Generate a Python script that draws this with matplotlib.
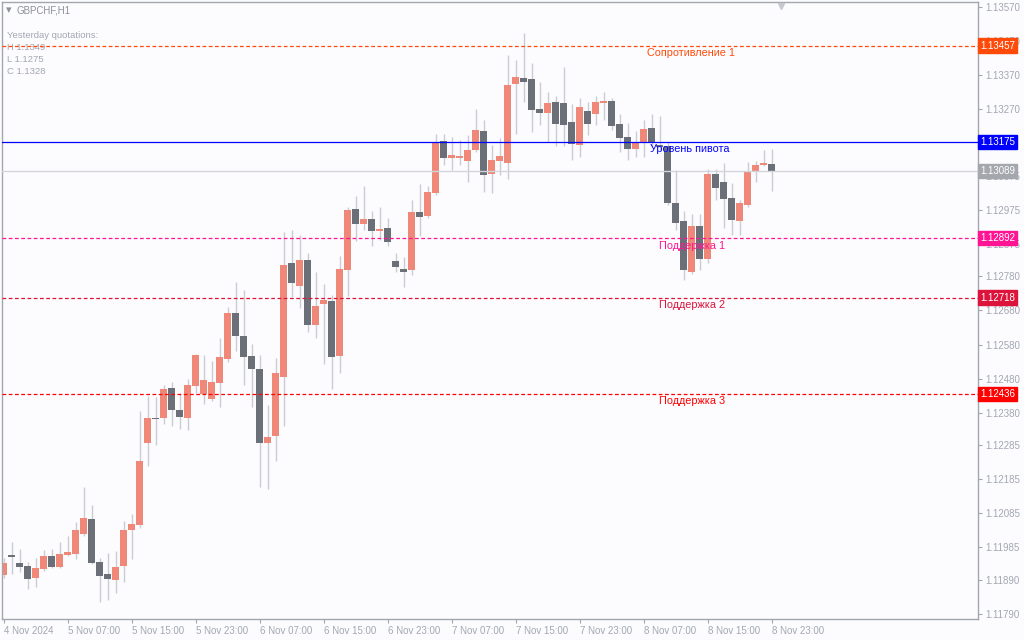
import matplotlib
matplotlib.use("Agg")
import matplotlib.pyplot as plt
import matplotlib.transforms as mtransforms
import numpy as np

# GBPCHF H1 candles, 4 Nov 23:00 .. 8 Nov 23:00
opens = [1.11904, 1.11963, 1.11939, 1.11931, 1.11895, 1.11922, 1.11960, 1.11928, 1.11963, 1.11966,
         1.12025, 1.12069, 1.11942, 1.11907, 1.11890, 1.11931, 1.12036, 1.12051, 1.12291, 1.12365,
         1.12365, 1.12453, 1.12388, 1.12365, 1.12458, 1.12435, 1.12420, 1.12467, 1.12538, 1.12673,
         1.12605, 1.12547, 1.12508, 1.12291, 1.12312, 1.12485, 1.12819, 1.12752, 1.12828, 1.12637,
         1.12699, 1.12708, 1.12547, 1.12799, 1.12978, 1.12934, 1.12948, 1.12913, 1.12922, 1.12825,
         1.12802, 1.12799, 1.12969, 1.12957, 1.13025, 1.13177, 1.13127, 1.13127, 1.13118, 1.13151,
         1.13206, 1.13080, 1.13118, 1.13113, 1.13344, 1.13362, 1.13359, 1.13271, 1.13259, 1.13291,
         1.13288, 1.13233, 1.13165, 1.13265, 1.13256, 1.13288, 1.13294, 1.13227, 1.13189, 1.13154,
         1.13174, 1.13215, 1.13165, 1.13162, 1.12995, 1.12942, 1.12793, 1.12928, 1.12831, 1.13080,
         1.13057, 1.13010, 1.12942, 1.12989, 1.13086, 1.13107, 1.13110]
highs = [1.11954, 1.12001, 1.11980, 1.11942, 1.11954, 1.11978, 1.11980, 1.12001, 1.12019, 1.12060,
         1.12162, 1.12110, 1.11954, 1.11969, 1.11975, 1.12063, 1.12083, 1.12385, 1.12429, 1.12426,
         1.12461, 1.12470, 1.12438, 1.12479, 1.12552, 1.12549, 1.12532, 1.12599, 1.12690, 1.12764,
         1.12740, 1.12582, 1.12549, 1.12403, 1.12541, 1.12910, 1.12916, 1.12901, 1.12849, 1.12793,
         1.12758, 1.12725, 1.12840, 1.12983, 1.13016, 1.13045, 1.12972, 1.12983, 1.12951, 1.12849,
         1.12837, 1.13004, 1.13051, 1.13045, 1.13198, 1.13198, 1.13189, 1.13180, 1.13195, 1.13271,
         1.13239, 1.13165, 1.13186, 1.13429, 1.13415, 1.13494, 1.13406, 1.13350, 1.13321, 1.13309,
         1.13394, 1.13285, 1.13303, 1.13291, 1.13309, 1.13321, 1.13303, 1.13256, 1.13230, 1.13206,
         1.13239, 1.13256, 1.13250, 1.13174, 1.13092, 1.12972, 1.12963, 1.12963, 1.13095, 1.13095,
         1.13113, 1.13054, 1.13004, 1.13115, 1.13118, 1.13151, 1.13154]
lows = [1.11895, 1.11907, 1.11913, 1.11863, 1.11869, 1.11916, 1.11925, 1.11925, 1.11960, 1.11951,
        1.12019, 1.11937, 1.11825, 1.11831, 1.11852, 1.11884, 1.11951, 1.12042, 1.12224, 1.12286,
        1.12347, 1.12341, 1.12332, 1.12329, 1.12438, 1.12406, 1.12415, 1.12397, 1.12529, 1.12561,
        1.12461, 1.12397, 1.12162, 1.12156, 1.12239, 1.12341, 1.12720, 1.12687, 1.12617, 1.12599,
        1.12523, 1.12450, 1.12497, 1.12722, 1.12884, 1.12916, 1.12869, 1.12887, 1.12869, 1.12793,
        1.12749, 1.12784, 1.12898, 1.12951, 1.13019, 1.13107, 1.13092, 1.13107, 1.13057, 1.13145,
        1.13027, 1.13025, 1.13077, 1.13066, 1.13198, 1.13291, 1.13203, 1.13224, 1.13174, 1.13162,
        1.13162, 1.13121, 1.13130, 1.13195, 1.13224, 1.13239, 1.13209, 1.13145, 1.13121, 1.13130,
        1.13130, 1.13162, 1.13151, 1.12989, 1.12916, 1.12769, 1.12787, 1.12799, 1.12819, 1.13004,
        1.12922, 1.12901, 1.12901, 1.12983, 1.13057, 1.13104, 1.13030]
closes = [1.11939, 1.11957, 1.11928, 1.11893, 1.11925, 1.11960, 1.11928, 1.11966, 1.11972, 1.12036,
          1.12071, 1.11939, 1.11901, 1.11893, 1.11928, 1.12036, 1.12054, 1.12239, 1.12365, 1.12362,
          1.12450, 1.12388, 1.12368, 1.12461, 1.12549, 1.12476, 1.12470, 1.12544, 1.12673, 1.12605,
          1.12544, 1.12508, 1.12291, 1.12309, 1.12497, 1.12813, 1.12761, 1.12828, 1.12637, 1.12693,
          1.12711, 1.12544, 1.12802, 1.12975, 1.12934, 1.12948, 1.12913, 1.12919, 1.12881, 1.12808,
          1.12793, 1.12969, 1.12954, 1.13027, 1.13174, 1.13127, 1.13136, 1.13133, 1.13151, 1.13209,
          1.13077, 1.13121, 1.13133, 1.13341, 1.13365, 1.13350, 1.13268, 1.13259, 1.13288, 1.13227,
          1.13224, 1.13168, 1.13277, 1.13227, 1.13291, 1.13294, 1.13221, 1.13186, 1.13154, 1.13174,
          1.13212, 1.13174, 1.13159, 1.12995, 1.12937, 1.12799, 1.12928, 1.12831, 1.13080, 1.13039,
          1.13007, 1.12945, 1.12995, 1.13089, 1.13107, 1.13113, 1.13089]

time_labels = ["4 Nov 2024", "5 Nov 07:00", "5 Nov 15:00", "5 Nov 23:00", "6 Nov 07:00",
               "6 Nov 15:00", "6 Nov 23:00", "7 Nov 07:00", "7 Nov 15:00", "7 Nov 23:00",
               "8 Nov 07:00", "8 Nov 15:00", "8 Nov 23:00"]
bars_per_label = 8

# 1.13175 sits under the pivot tag, so it is left out
price_ticks = [1.13570, 1.13470, 1.13370, 1.13270, 1.13075, 1.12975, 1.12875, 1.12780,
               1.12680, 1.12580, 1.12480, 1.12380, 1.12285, 1.12185, 1.12085, 1.11985, 1.11890,
               1.11790]

level_names = ["Сопротивление 1", "Уровень пивота", "Поддержка 1", "Поддержка 2", "Поддержка 3"]
level_prices = [1.13457, 1.13175, 1.12892, 1.12718, 1.12436]
level_colors = ["#FF4A0A", "#0000FF", "#FF1493", "#DC143C", "#FF0000"]
level_styles = ["dashed", "solid", "dashed", "dashed", "dashed"]

last_price = 1.13089
yesterday = [("H", "1.1349"), ("L", "1.1275"), ("C", "1.1328")]

UP = "#EF8878"
DOWN = "#6A6F78"
WICK = "#C9CBD5"
BG = "#FCFCFE"
AXIS = "#A4A6AE"
TXT = "#A3A7B2"

fig = plt.figure(figsize=(10.24, 6.4), dpi=100, facecolor=BG)
ax = fig.add_axes([2 / 1024, 21 / 640, 976 / 1024, 617 / 640])
ax.set_facecolor(BG)

o = np.array(opens)
h = np.array(highs)
l = np.array(lows)
c = np.array(closes)
x = np.arange(len(o))
up = c >= o

ax.vlines(x, l, h, color=WICK, lw=1.0, zorder=1)
body_h = np.maximum(np.abs(c - o), 0.000025)
ax.bar(x, body_h, bottom=np.minimum(o, c), width=0.86,
       color=np.where(up, UP, DOWN), linewidth=0, zorder=2)

ax.set_xlim(-0.19, 121.8)
ax.set_ylim(1.117752, 1.135847)

# current price line
ax.axhline(last_price, color="#D4D5DC", lw=1.0, zorder=3)

# pivot levels
trans_tag = mtransforms.blended_transform_factory(ax.transAxes, ax.transData)
label_x = [80.4, 80.8, 81.9, 81.9, 81.9]
for name, price, col, ls, lx in zip(level_names, level_prices, level_colors, level_styles, label_x):
    if ls == "dashed":
        ax.axhline(price, color=col, lw=0.9, linestyle=(0, (3, 2)), zorder=4)
    else:
        ax.axhline(price, color=col, lw=0.9, zorder=4)
    ax.annotate(name, (lx, price), xytext=(0, -5.5), textcoords="offset points",
                va="center", ha="left", fontsize=7.8, color=col,
                family="Liberation Sans", zorder=6)
    ax.text(1.002, price, f"{price:.5f}", transform=trans_tag, va="center", ha="left",
            fontsize=7, color="white", family="Liberation Sans", clip_on=False, zorder=10,
            bbox=dict(boxstyle="square,pad=0.22", fc=col, ec=col))

ax.text(1.002, last_price, f"{last_price:.5f}", transform=trans_tag, va="center", ha="left",
        fontsize=7, color="white", family="Liberation Sans", clip_on=False, zorder=10,
        bbox=dict(boxstyle="square,pad=0.22", fc="#A5A7AE", ec="#A5A7AE"))

# axes styling
for side in ["left", "top", "right", "bottom"]:
    ax.spines[side].set_color(AXIS)
    ax.spines[side].set_linewidth(1.0)

ax.yaxis.tick_right()
ax.set_yticks(price_ticks)
ax.set_yticklabels([f"{p:.5f}" for p in price_ticks])
ax.tick_params(axis="y", direction="out", length=3, width=0.8, color=AXIS,
               labelcolor=TXT, labelsize=7, pad=2)

ax.set_xticks(np.arange(len(time_labels)) * bars_per_label)
ax.set_xticklabels(time_labels)
ax.tick_params(axis="x", direction="out", length=3, width=0.8, color=AXIS,
               labelcolor=TXT, labelsize=7, pad=2)
for lab in ax.get_xticklabels() + ax.get_yticklabels():
    lab.set_family("Liberation Sans")
for lab in ax.get_xticklabels():
    lab.set_ha("left")

# chart shift marker
ax.plot([97.2], [0.993], marker="v", ms=5, color="#C6C8D0",
        transform=mtransforms.blended_transform_factory(ax.transData, ax.transAxes),
        clip_on=False, zorder=5)

# header text
ax.text(0.004, 0.987, "▾", transform=ax.transAxes, fontsize=8, color="#8E9099", va="center")
ax.text(0.015, 0.987, "GBPCHF,H1", transform=ax.transAxes, fontsize=7, color="#8E9099",
        va="center", family="Liberation Sans")
ax.text(0.005, 0.945, "Yesterday quotations:", transform=ax.transAxes, fontsize=6.8,
        color=TXT, va="center", family="Liberation Sans")
for k, (key, val) in enumerate(yesterday):
    ax.text(0.005, 0.927 - k * 0.0195, f"{key} {val}", transform=ax.transAxes, fontsize=6.8,
            color=TXT, va="center", family="Liberation Sans")

fig.savefig("out.png", dpi=100, facecolor=BG)
